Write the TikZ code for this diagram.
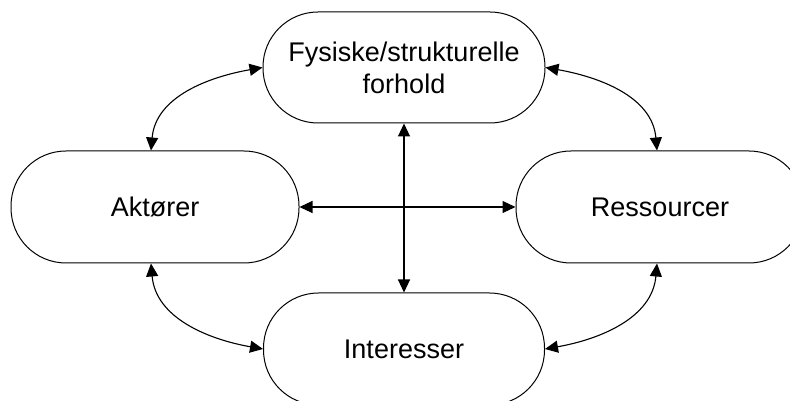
\documentclass[tikz,border=0pt]{standalone}
\usepackage{fontspec}
\setmainfont{Liberation Sans}
\usetikzlibrary{arrows.meta}
\begin{document}
\begin{tikzpicture}[x=1pt,y=1pt,
  pill/.style={draw=black, line width=1pt, rounded corners=55pt,
    minimum height=112pt, inner sep=0pt, align=center,
    font=\fontsize{27}{32}\selectfont},
  link/.style={line width=1.1pt, draw=black,
    {Triangle[length=13pt,width=12pt]}-{Triangle[length=13pt,width=12pt]}}]
  \useasboundingbox (0,0) rectangle (790,401);
  \clip (0,0) rectangle (790,401);
  \node[pill, minimum width=282pt, minimum height=111pt] (F) at (404,333.5) {Fysiske/strukturelle\\forhold};
  \node[pill, minimum width=288pt] (A) at (155,194) {Aktører};
  \node[pill, minimum width=288pt] (R) at (660,194) {Ressourcer};
  \node[pill, minimum width=281pt] (I) at (404,52) {Interesser};
  \draw[link] (F.south) -- (I.north);
  \draw[link] (A.east) -- (R.west);
  \draw[link] ([xshift=-4pt]A.north) to[out=85,in=190] (F.west);
  \draw[link] (F.east) to[out=-10,in=95] ([xshift=-3pt]R.north);
  \draw[link] ([xshift=-4pt]A.south) to[out=-85,in=170] (I.west);
  \draw[link] ([xshift=-3pt]R.south) to[out=-95,in=10] (I.east);
\end{tikzpicture}
\end{document}
